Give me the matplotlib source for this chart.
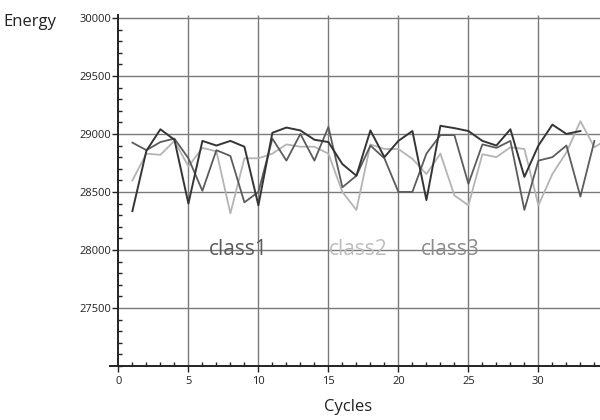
import matplotlib
matplotlib.use("Agg")
import matplotlib.pyplot as plt
from matplotlib.ticker import MultipleLocator

plt.rcParams["font.family"] = ["Open Sans", "DejaVu Sans"]

cycles_dark = list(range(1, 34))
energy_dark = [28335, 28855, 29040, 28950, 28400, 28940, 28900, 28940, 28890, 28385,
               29010, 29055, 29030, 28950, 28930, 28740, 28640, 29030, 28800, 28940,
               29025, 28430, 29070, 29050, 29025, 28940, 28900, 29040, 28630, 28900,
               29080, 29000, 29025]

cycles_mid = list(range(1, 35))
energy_mid = [28925, 28860, 28930, 28960, 28790, 28510, 28860, 28810, 28410, 28500,
              28960, 28770, 29000, 28770, 29060, 28540, 28640, 28900, 28790, 28500,
              28500, 28830, 28990, 28990, 28570, 28910, 28880, 28940, 28345, 28770,
              28800, 28900, 28460, 28940]

cycles_light = list(range(1, 36))
energy_light = [28600, 28830, 28820, 28940, 28720, 28880, 28850, 28315, 28790, 28790,
                28830, 28910, 28890, 28890, 28830, 28500, 28345, 28910, 28870, 28870,
                28785, 28655, 28830, 28470, 28385, 28825, 28800, 28885, 28870, 28385,
                28655, 28840, 29110, 28885, 28960]

class_labels = ["class1", "class2", "class3"]
class_label_x = [8.6, 17.1, 23.7]
class_label_y = [28000, 28000, 28000]
class_colors = ["#5a5a5a", "#bdbdbd", "#8c8c8c"]

y_major = [27500, 28000, 28500, 29000, 29500, 30000]
x_major = [0, 5, 10, 15, 20, 25, 30]
x_grid = [5, 10, 15, 20, 25, 30]

fig = plt.figure(figsize=(6, 4.2), dpi=100)
ax = fig.add_axes([110/600, 1 - 366/420, 490/600, (366 - 15)/420])
ax.set_xlim(-0.6, 34.4)
ax.set_ylim(27000, 30025)

grid_color = "#7a7a7a"
ax.hlines(y_major, 0, 34.4, colors=grid_color, lw=1.0, zorder=1)
ax.vlines(x_grid, 27000, 30025, colors=grid_color, lw=1.0, zorder=1)

ax.plot(cycles_light, energy_light, color="#b4b4b4", lw=1.3, zorder=2)
ax.plot(cycles_mid, energy_mid, color="#5c5c5c", lw=1.3, zorder=3)
ax.plot(cycles_dark, energy_dark, color="#353535", lw=1.4, zorder=4)

for t, xx, yy, c in zip(class_labels, class_label_x, class_label_y, class_colors):
    ax.text(xx, yy, t, color=c, fontsize=15, ha="center", va="center", zorder=5)

for s in ["top", "right"]:
    ax.spines[s].set_visible(False)
ax.spines["left"].set_position(("data", 0))
ax.spines["left"].set_bounds(27000, 30025)
ax.spines["left"].set_color("#222222")
ax.spines["bottom"].set_color("#222222")
ax.spines["left"].set_linewidth(1.4)
ax.spines["bottom"].set_linewidth(1.4)

ax.set_xticks(x_major)
ax.set_yticks(y_major)
ax.xaxis.set_minor_locator(MultipleLocator(1))
ax.yaxis.set_minor_locator(MultipleLocator(100))
ax.tick_params(axis="both", which="major", direction="out", length=4, width=1,
               labelsize=8, colors="#222222")
ax.tick_params(axis="both", which="minor", direction="in", length=3, width=1,
               colors="#222222")
ax.tick_params(axis="y", which="major", pad=1)
ax.tick_params(axis="x", which="major", pad=3)

fig.text(30/600, 1 - 22/420, "Energy", fontsize=12, ha="center", va="center",
         color="#222222")
fig.text(348/600, 1 - 407/420, "Cycles", fontsize=12, ha="center", va="center",
         color="#222222")

fig.savefig("out.png", dpi=100)
